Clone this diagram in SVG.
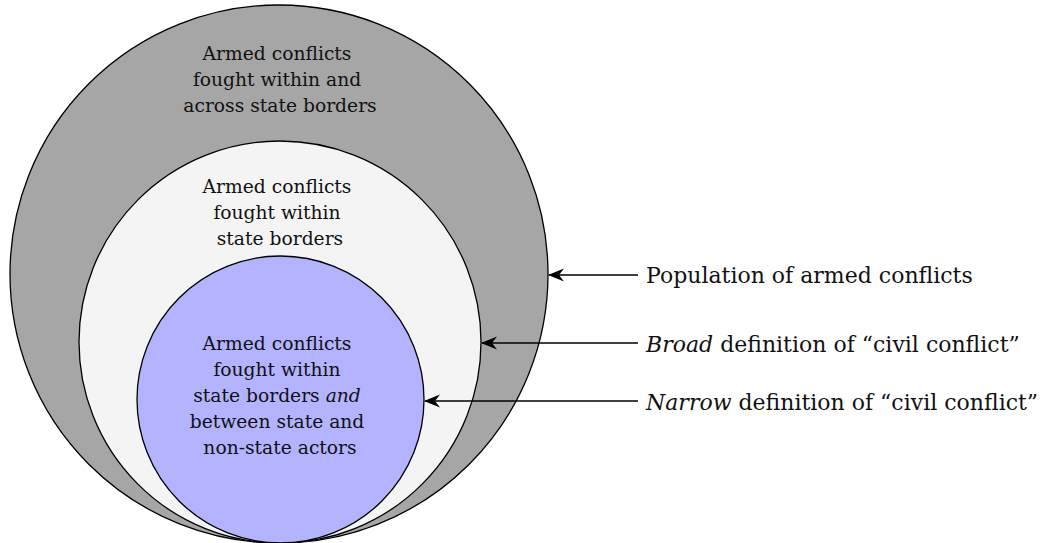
<svg xmlns="http://www.w3.org/2000/svg" width="1040" height="543" viewBox="0 0 1040 543">
  <style>
    .ring { stroke: #000; stroke-width: 1.3; }
    .inside { font-family: "DejaVu Serif", "Liberation Serif", serif; font-size: 18.7px; fill: #111; text-anchor: middle; }
    .label { font-family: "DejaVu Serif", "Liberation Serif", serif; font-size: 22px; fill: #111; }
    .conn { stroke: #000; stroke-width: 1.6; fill: none; marker-end: url(#head); }
  </style>
  <defs>
    <!-- stealth-style head with a notched back -->
    <marker id="head" viewBox="0 0 16 14" refX="15" refY="7" markerWidth="16" markerHeight="14" markerUnits="userSpaceOnUse" orient="auto">
      <path d="M0,0.5 L16,7 L0,13.5 L5,7 Z" fill="#000"/>
    </marker>
  </defs>
  <rect width="1040" height="543" fill="#fff"/>

  <g id="population">
    <circle class="ring" cx="279" cy="274" r="269" fill="#a6a6a6"/>
    <text class="inside">
      <tspan x="280" y="60">Armed conflicts</tspan>
      <tspan x="280" y="86">fought within and</tspan>
      <tspan x="280" y="112">across state borders</tspan>
    </text>
  </g>

  <g id="broad">
    <circle class="ring" cx="280" cy="342" r="201" fill="#f4f4f4"/>
    <text class="inside">
      <tspan x="280" y="193">Armed conflicts</tspan>
      <tspan x="280" y="219">fought within</tspan>
      <tspan x="280" y="245">state borders</tspan>
    </text>
  </g>

  <g id="narrow">
    <circle class="ring" cx="280.5" cy="399.5" r="143.5" fill="#b3b3ff"/>
    <text class="inside">
      <tspan x="280" y="350">Armed conflicts</tspan>
      <tspan x="280" y="376">fought within</tspan>
      <tspan x="280" y="402">state borders <tspan font-style="italic">and</tspan></tspan>
      <tspan x="280" y="428">between state and</tspan>
      <tspan x="280" y="454">non-state actors</tspan>
    </text>
  </g>

  <g id="connectors">
    <line class="conn" x1="638" y1="275" x2="549" y2="275"/>
    <line class="conn" x1="638" y1="343" x2="482" y2="343"/>
    <line class="conn" x1="638" y1="401" x2="425" y2="401"/>
  </g>

  <g id="labels">
    <text class="label" x="646" y="283">Population of armed conflicts</text>
    <text class="label" x="646" y="352"><tspan font-style="italic">Broad</tspan> definition of “civil conflict”</text>
    <text class="label" x="646" y="410"><tspan font-style="italic">Narrow</tspan> definition of “civil conflict”</text>
  </g>
</svg>
